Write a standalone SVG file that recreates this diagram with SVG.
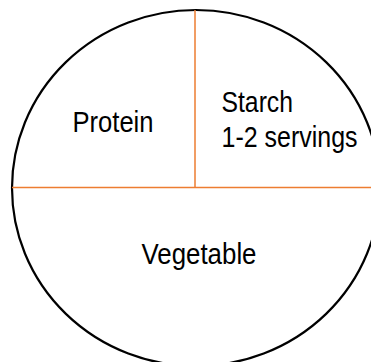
<svg xmlns="http://www.w3.org/2000/svg" width="371" height="362" viewBox="0 0 371 362">
<style>
.lbl{font-family:"Liberation Sans",Arial,sans-serif;font-size:30px;fill:#000}
.div{stroke:#ED7D31;stroke-width:1.5;fill:none}
</style>
<rect width="371" height="362" fill="#fff"/>
<g id="plate">
<ellipse cx="196" cy="188" rx="184" ry="178" fill="#fff" stroke="#000" stroke-width="2.2"/>
</g>
<g id="connectors">
<line class="div" x1="195" y1="10" x2="195" y2="187.5"/>
<line class="div" x1="12" y1="187.5" x2="371" y2="187.5"/>
</g>
<g id="protein"><text class="lbl" x="72.5" y="132" textLength="81" lengthAdjust="spacingAndGlyphs">Protein</text></g>
<g id="starch">
<text class="lbl" x="221.5" y="111.5" textLength="71.5" lengthAdjust="spacingAndGlyphs">Starch</text>
<text class="lbl" x="221.5" y="147" textLength="136" lengthAdjust="spacingAndGlyphs">1-2 servings</text>
</g>
<g id="vegetable"><text class="lbl" x="141.5" y="264" textLength="115" lengthAdjust="spacingAndGlyphs">Vegetable</text></g>
</svg>
